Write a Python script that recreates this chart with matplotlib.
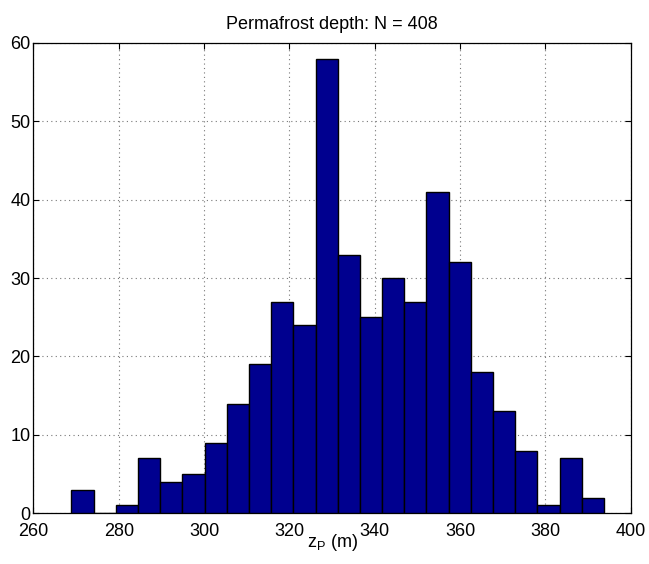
import matplotlib.pyplot as plt
import numpy as np

plt.rcParams['font.family'] = ['Liberation Sans', 'DejaVu Sans']

# bin counts of permafrost depth, 24 equal bins
counts = [3, 0, 1, 7, 4, 5, 9, 14, 19, 27, 24, 58,
          33, 25, 30, 27, 41, 32, 18, 13, 8, 1, 7, 2]
z_min, z_max = 268.9, 393.7
edges = np.linspace(z_min, z_max, len(counts) + 1)

fig = plt.figure(figsize=(6.49, 5.64), dpi=100)
ax = fig.add_axes([0.0516, 0.090, 0.9204, 0.8338])

ax.bar(edges[:-1], counts, width=np.diff(edges), align='edge',
       color='#00008F', edgecolor='black', linewidth=1.0, zorder=3)

ax.set_xlim(260, 400)
ax.set_ylim(0, 60)
ax.set_xticks(np.arange(260, 401, 20))
ax.set_yticks(np.arange(0, 61, 10))
ax.grid(True, linestyle=(0, (1, 3)), color='#777777', linewidth=0.8, zorder=0)
ax.tick_params(direction='in', top=True, right=True, labelsize=13, length=4)
ax.tick_params(axis='x', pad=7)
ax.tick_params(axis='y', pad=2)
for s in ax.spines.values():
    s.set_linewidth(0.9)

ax.set_title('Permafrost depth: N = 408', fontsize=13, pad=10)
ax.set_xlabel('z$_\\mathregular{P}$ (m)', fontsize=13, labelpad=-6)

fig.savefig('out.png', dpi=100)
